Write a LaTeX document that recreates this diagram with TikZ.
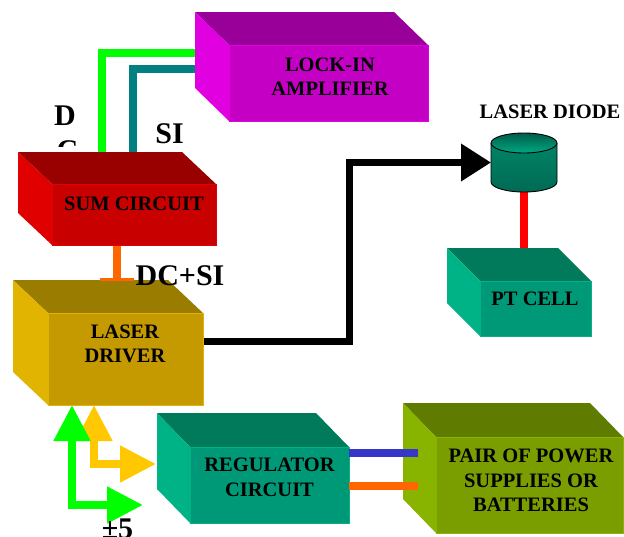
\documentclass[tikz,border=0pt]{standalone}
\usepackage{fontspec}
\setmainfont{Liberation Serif}
\usetikzlibrary{arrows.meta,calc}
\definecolor{lockF}{HTML}{C400C4}\definecolor{lockT}{HTML}{990099}\definecolor{lockL}{HTML}{E000E0}
\definecolor{sumF}{HTML}{C80000}\definecolor{sumT}{HTML}{990000}\definecolor{sumL}{HTML}{E00000}
\definecolor{drvF}{HTML}{C49A00}\definecolor{drvT}{HTML}{9A7C00}\definecolor{drvL}{HTML}{E0B400}
\definecolor{tealF}{HTML}{009977}\definecolor{tealT}{HTML}{007A5A}\definecolor{tealL}{HTML}{00B386}
\definecolor{pwrF}{HTML}{7A9E00}\definecolor{pwrT}{HTML}{5F7C00}\definecolor{pwrL}{HTML}{88B400}
\definecolor{wgreen}{HTML}{00FF00}\definecolor{wteal}{HTML}{008080}\definecolor{worange}{HTML}{FF6600}
\definecolor{wblue}{HTML}{3636C8}\definecolor{wred}{HTML}{FF0000}\definecolor{wyellow}{HTML}{FFC800}
\definecolor{cylA}{HTML}{008466}\definecolor{cylB}{HTML}{00D29E}\definecolor{cylC}{HTML}{006A54}
\definecolor{cylD}{HTML}{005C4A}\definecolor{cylE}{HTML}{00A883}
\newcommand\cubenode[5]{\node[facebox,minimum width={(#4-#2)*1pt},minimum height={(#5-#3)*1pt},anchor=north west] (#1) at (#2,#3) {};}
\newcommand\cubefaces[4]{%
  \fill[#2T] (#1.north west) -- ++(#3,#4) -- ($(#1.north east)+(#3,#4)$) -- (#1.north east) -- cycle;
  \fill[#2L] (#1.north west) -- ++(#3,#4) -- ($(#1.south west)+(#3,#4)$) -- (#1.south west) -- cycle;
  \filldraw[fill=#2F,draw=#2L,line width=0.8pt] (#1.north west) rectangle (#1.south east);}
\tikzset{
  facebox/.style={inner sep=0pt,outer sep=0pt},
  boxlabel/.style={font=\bfseries\fontsize{20.5}{24.5}\selectfont,align=center,inner sep=0pt},
  biglabel/.style={font=\bfseries\fontsize{30}{30}\selectfont,inner sep=0pt,anchor=base},
  wire/.style={line width=7.5pt},
  fatarrow/.style={line width=8pt,{Triangle[length=36pt,width=35pt]}-{Triangle[length=36pt,width=35pt]}},
  blackarrow/.style={line width=7pt,-{Triangle[length=30pt,width=36pt]}}
}
\begin{document}
\begin{tikzpicture}[x=1pt,y=-1pt]
\clip (0,0) rectangle (624,536);
% placeholders for the boxes
\cubenode{lock}{229}{45}{428}{121}
\cubenode{sum}{52}{184}{216}{245}
\cubenode{drv}{48}{313}{203}{405}
\cubenode{pt}{480}{281}{591}{336}
\cubenode{reg}{190}{447}{349}{523}
\cubenode{pwr}{436}{437}{623}{533}
\node[facebox,minimum width=66pt,minimum height=59pt] (diode) at (524,162.5) {};
% connectors behind the boxes
\draw[wire,wgreen] ($(sum.north west)+(50,0)$) |- ($(lock.north west)+(0,8)$);
\draw[wire,wteal] ($(sum.north west)+(81,0)$) |- ($(lock.north west)+(0,24)$);
\draw[wire,worange,line width=8pt] ($(sum.south west)+(65,0)$) -- ($(drv.north west)+(69,0)$);
\draw[wire,wred] (diode.south) -- (diode.south |- pt.north);
\draw[blackarrow] ($(drv.north east)+(0,28)$) -- ++(146,0) |- (diode.west);
% boxes
\cubefaces{lock}{lock}{-34}{-33}
\cubefaces{sum}{sum}{-34}{-32}
\cubefaces{drv}{drv}{-35}{-33}
\cubefaces{pt}{teal}{-33}{-33}
\cubefaces{reg}{teal}{-33}{-34}
\cubefaces{pwr}{pwr}{-33}{-34}
% laser diode cylinder
\shade[top color=cylA,middle color=cylB,bottom color=cylC]
  ($(diode.north west)+(0,10)$) -- ($(diode.south west)+(0,-10)$)
  arc[start angle=180,end angle=360,x radius=33pt,y radius=10pt]
  -- ($(diode.north east)+(0,10)$) -- cycle;
\draw[line width=0.9pt] ($(diode.north west)+(0,10)$) -- ($(diode.south west)+(0,-10)$)
  arc[start angle=180,end angle=360,x radius=33pt,y radius=10pt]
  -- ($(diode.north east)+(0,10)$);
\shade[top color=cylD,bottom color=cylE,draw=black,line width=0.9pt]
  ($(diode.north)+(0,10)$) ellipse[x radius=33pt,y radius=10pt];
% wires over the power box
\draw[wire,wblue,line width=8pt] ($(reg.north east)+(0,6)$) -- ($(pwr.north west)+(-18,16)$);
\draw[wire,worange,line width=8pt] ($(reg.north east)+(0,38.5)$) -- ($(pwr.north west)+(-18,48.5)$);
\draw[worange,line width=2.5pt] ($(drv.north west)+(52,-33.5)$) -- ($(drv.north west)+(86,-33.5)$);
% supply arrows
\coordinate (gend) at (143,505);
\draw[fatarrow,wyellow] ($(drv.south west)+(46,0)$) |- ($(reg.north west)+(-34,17)$);
\draw[fatarrow,wgreen] ($(drv.south west)+(24,0)$) |- (gend);
% texts
\node[boxlabel] (lockT) at (330,76.7) {LOCK-IN\\AMPLIFIER};
\node[boxlabel] (sumT) at (134,204) {SUM CIRCUIT};
\node[boxlabel] (drvT) at (125,344) {LASER\\DRIVER};
\node[boxlabel] (ptT) at (535,299) {PT CELL};
\node[boxlabel] (regT) at (269.5,477.5) {REGULATOR\\CIRCUIT};
\node[boxlabel] (pwrT) at (531,480.5) {PAIR OF POWER\\SUPPLIES OR\\BATTERIES};
\node[boxlabel,anchor=base] (diodeT) at (550,118) {LASER DIODE};
\node[biglabel] (lblD) at (65,125) {D};
\begin{scope}
  \clip (40,100) rectangle (100,146);
  \node[biglabel] (lblC) at (67.5,160) {C};
\end{scope}
\node[biglabel] (lblSI) at (169.5,143) {SI};
\node[biglabel] (lblDCSI) at (180,285) {DC+SI};
\node[biglabel] (lblPM) at (117.5,538) {±5};
\end{tikzpicture}
\end{document}
